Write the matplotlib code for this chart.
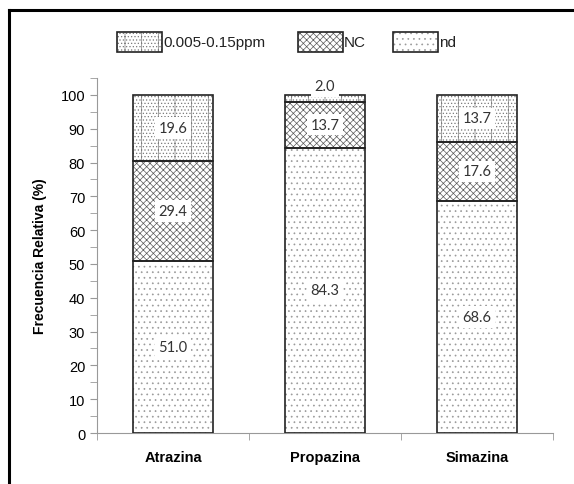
import matplotlib
matplotlib.use("Agg")
import matplotlib.pyplot as plt
from matplotlib.patches import Rectangle
from matplotlib.lines import Line2D
import numpy as np

# herbicide frequencies (%) per detection class
herbicidas = ["Atrazina", "Propazina", "Simazina"]
nd = [51.0, 84.3, 68.6]
nc = [29.4, 13.7, 17.6]
rango = [19.6, 2.0, 13.7]

# name, values, hatch, hatch colour
series = [("nd", nd, "...", "#9a9a9a"),
          ("NC", nc, "xxxxx", "#5a5a5a"),
          ("0.005-0.15ppm", rango, "|.....", "#7a7a7a")]
legend_order = ["0.005-0.15ppm", "NC", "nd"]

plt.rcParams["font.family"] = ["Liberation Sans", "DejaVu Sans"]
plt.rcParams["hatch.linewidth"] = 0.5

W, H = 574, 485
fig = plt.figure(figsize=(W / 100, H / 100), dpi=100)
ax = fig.add_axes([97 / W, 1 - 434 / H, (553 - 97) / W, (434 - 79) / H])

x = np.arange(len(herbicidas))
width = 0.53
bottom = np.zeros(len(herbicidas))
style_of = {}
for name, vals, hatch, hc in series:
    vals = np.array(vals)
    style_of[name] = (hatch, hc)
    ax.bar(x, vals, width, bottom=bottom, color="white", edgecolor=hc,
           hatch=hatch, linewidth=0, zorder=2)
    ax.bar(x, vals, width, bottom=bottom, fill=False, edgecolor="#222222",
           linewidth=1.2, zorder=3)
    for xi, b, v in zip(x, bottom, vals):
        y = b + v / 2 if v > 5 else b + v + 2.6
        ax.text(xi, y, f"{v:.1f}", ha="center", va="center", fontsize=10.5,
                family="Lato", color="#333333", zorder=4,
                bbox=dict(boxstyle="square,pad=0.25", fc="white", ec="none"))
    bottom = bottom + vals

ax.set_xlim(-0.5, 2.5)
ax.set_ylim(0, 105)
ax.set_yticks(np.arange(0, 101, 10))
ax.set_yticks(np.arange(0, 106, 5), minor=True)
ax.set_xticks(x)
ax.set_xticklabels(herbicidas, fontsize=10.5, fontweight="bold")
ax.set_xticks([-0.5, 0.5, 1.5, 2.5], minor=True)
ax.tick_params(axis="x", which="major", length=0, pad=12)
ax.tick_params(axis="x", which="minor", length=5, direction="out", color="#999999")
ax.tick_params(axis="y", which="both", length=5, direction="out", color="#999999",
               labelsize=10.5)
for s in ["top", "right"]:
    ax.spines[s].set_visible(False)
for s in ["left", "bottom"]:
    ax.spines[s].set_color("#999999")
ax.set_ylabel("Frecuencia Relativa (%)", fontsize=10, fontweight="bold", labelpad=10)

# legend keys across the top
key_x = [117, 298, 393]
for kx, name in zip(key_x, legend_order):
    hatch, hc = style_of[name]
    fig.patches.append(Rectangle((kx / W, 1 - 53 / H), 45 / W, 20 / H,
                                 transform=fig.transFigure, facecolor="white",
                                 edgecolor=hc, hatch=hatch, lw=0))
    fig.patches.append(Rectangle((kx / W, 1 - 53 / H), 45 / W, 20 / H,
                                 transform=fig.transFigure, fill=False,
                                 edgecolor="#222222", lw=1.2))
    fig.text((kx + 46) / W, 1 - 43 / H, name, fontsize=11, va="center",
             ha="left", color="#222222")

# frame lines on top and left of figure
fig.lines.append(Line2D([9 / W, 1], [1 - 11 / H] * 2, transform=fig.transFigure,
                        color="black", lw=2.2))
fig.lines.append(Line2D([9 / W] * 2, [0, 1 - 11 / H], transform=fig.transFigure,
                        color="black", lw=2.2))

fig.savefig("out.png", dpi=100)
